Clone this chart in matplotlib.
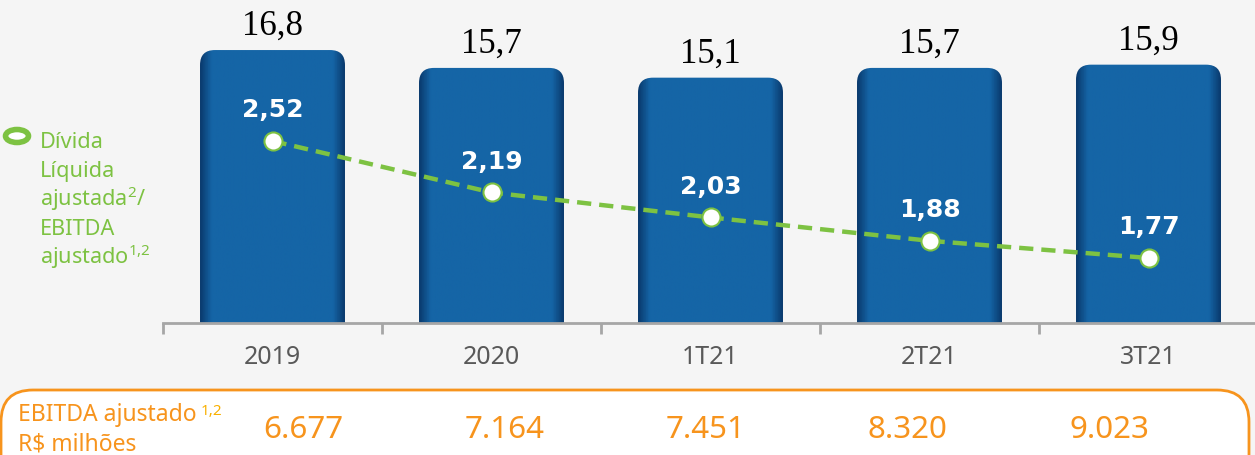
import numpy as np, matplotlib
matplotlib.use("Agg"); import matplotlib.pyplot as plt
from matplotlib.patches import FancyBboxPatch, Ellipse
from matplotlib.colors import LinearSegmentedColormap

plt.rcParams["font.family"] = ["Noto Sans", "DejaVu Sans"]
plt.rcParams["mathtext.fontset"] = "custom"
plt.rcParams["mathtext.rm"] = "Noto Sans"
plt.rcParams["mathtext.it"] = "Noto Sans"

# dados (R$ bilhões / alavancagem)
cats = ["2019", "2020", "1T21", "2T21", "3T21"]
divida = [16.8, 15.7, 15.1, 15.7, 15.9]
alav = [2.52, 2.19, 2.03, 1.88, 1.77]
ebitda = ["6.677", "7.164", "7.451", "8.320", "9.023"]
leg_lines = ["Dívida", "Líquida", "ajustada$^{2}$/", "EBITDA", "ajustado$^{1{,}2}$"]

W, H = 1255, 455
VERDE = "#7dc242"; LARANJA = "#f7941d"; AZUL = "#1565a6"

fig = plt.figure(figsize=(W/100, H/100), dpi=100, facecolor="#f5f5f5")
ax = fig.add_axes([163/W, 1-323/H, 1095/W, 323/H])
ax.patch.set_alpha(0)
x = np.arange(len(cats))

# barras arredondadas com gradiente
cmap = LinearSegmentedColormap.from_list("b", [(0, "#0a3a6e"), (0.08, AZUL), (0.92, AZUL), (1, "#0a3a6e")])
grad = np.linspace(0, 1, 200)[None, :]
bars = ax.bar(x, divida, width=0.662, color="none")
for r in bars:
    x0, w, h = r.get_x(), r.get_width(), r.get_height()
    p = FancyBboxPatch((x0, -2), w, h+2, boxstyle="round,pad=0,rounding_size=0.068",
                       mutation_aspect=13.5, fc="none", ec="none")
    ax.add_patch(p)
    im = ax.imshow(grad, extent=[x0, x0+w, -2, h], aspect="auto", cmap=cmap, zorder=2)
    im.set_clip_path(p)
    ax.annotate(f"{h:.1f}".replace(".", ","), (r.get_x()+w/2, h), xytext=(0, 11),
                textcoords="offset points", ha="center", va="baseline",
                fontsize=25, family="Liberation Serif", color="black")
ax.set_xlim(-0.5, 4.5); ax.set_ylim(0, 19.88)

for s in ["top", "left", "right"]:
    ax.spines[s].set_visible(False)
ax.spines["bottom"].set_color("#a6a6a6"); ax.spines["bottom"].set_linewidth(2)
ax.set_yticks([])
ax.set_xticks(x); ax.set_xticklabels(cats, fontsize=18, color="#595959")
ax.tick_params(axis="x", which="major", length=0, pad=16)
ax.set_xticks(np.arange(-0.5, 5, 1), minor=True)
ax.tick_params(axis="x", which="minor", length=8, width=2, color="#a6a6a6")

# linha de alavancagem
ax2 = ax.twinx()
ax2.set_ylim(1.353, 3.424); ax2.set_yticks([])
for s in ax2.spines.values():
    s.set_visible(False)
ax2.plot(x, alav, color=VERDE, lw=3.2, dashes=[3.2, 1.8], zorder=3)
ax2.plot(x, alav, ls="none", marker="o", ms=13, mfc="white", mec=VERDE, mew=1.5, zorder=4)
for i, v in enumerate(alav):
    ax2.annotate(f"{v:.2f}".replace(".", ","), (i, v), xytext=(0, 17), textcoords="offset points",
                 ha="center", va="baseline", fontsize=18, fontweight="bold",
                 family="DejaVu Sans", color="white")

# legenda à esquerda
fig.add_artist(Ellipse((17/W, 1-136/H), 23/W, 13/H, transform=fig.transFigure,
                       fc="white", ec=VERDE, lw=4))
for i, t in enumerate(leg_lines):
    fig.text(40/W, 1-(148+29*i)/H, t, fontsize=15.6, color=VERDE, va="baseline")

# caixa EBITDA
box = FancyBboxPatch((0.01, -0.4), 12.48, 1.05, boxstyle="round,pad=0,rounding_size=0.32",
                     transform=fig.dpi_scale_trans, fc="white", ec=LARANJA, lw=2)
fig.add_artist(box)
fig.text(18/W, 1-421/H, "EBITDA ajustado", fontsize=16.5, color=LARANJA, va="baseline")
fig.text(201/W, 1-415/H, "1,2", fontsize=11, color="#f9b000", va="baseline")
fig.text(18/W, 1-450/H, "R$ milhões", fontsize=16.5, color=LARANJA, va="baseline")
for xp, v in zip(np.linspace(303, 1109, 5), ebitda):
    fig.text(xp/W, 1-438/H, v, fontsize=22.5, color=LARANJA, ha="center", va="baseline")

fig.savefig("out.png", dpi=100, facecolor=fig.get_facecolor())
